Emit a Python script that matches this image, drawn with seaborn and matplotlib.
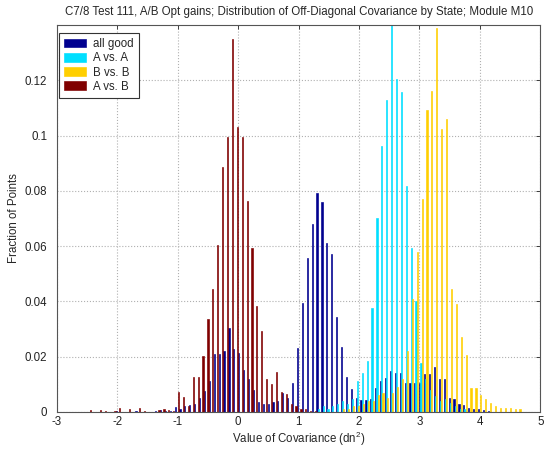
import numpy as np
import pandas as pd
import matplotlib
matplotlib.use("Agg")
import matplotlib.pyplot as plt
import seaborn as sns

# Histogram bins (centres) of the off-diagonal covariance, dn^2
bin_start = -2.474
bin_width = 0.081
n_bins = 89
bin_centers = np.round(bin_start + bin_width * np.arange(n_bins), 4)

states = ["all good", "A vs. A", "B vs. B", "A vs. B"]

# Fraction of points per bin, one list per state (bins from -2.474 upward)
all_good = [
    0, 0, 0, 0, 0, 0, 0.0005, 0, 0, 0, 0.0005, 0, 0, 0,
    0.0005, 0.0008, 0.0005, 0.0005, 0.0017, 0.001, 0.002, 0.0026, 0.003, 0.005,
    0.0077, 0.0113, 0.0209, 0.0209, 0.022, 0.0305, 0.0229, 0.0215, 0.0151, 0.0121,
    0.008, 0.0035, 0.003, 0.003, 0.0037, 0.004, 0.007, 0.005, 0.0106, 0.023,
    0.0396, 0.0556, 0.0679, 0.0791, 0.0760, 0.0613, 0.0570, 0.0345, 0.0235, 0.0128,
    0.0082, 0.005, 0.0043, 0.0042, 0.0046, 0.0088, 0.0112, 0.0124, 0.0148, 0.0142,
    0.0142, 0.0104, 0.0106, 0.0106, 0.0105, 0.0136, 0.0136, 0.0164, 0.012, 0.012,
    0.005, 0.0046, 0.003, 0.0024, 0.0016, 0.0012, 0.0012, 0.0008, 0.0005,
    0, 0, 0, 0, 0, 0,
]

a_vs_a = [0] * 47 + [
    0.001, 0.002, 0.001, 0.002, 0.003, 0.004, 0.003, 0.0046, 0.0112, 0.014,
    0.0184, 0.0377, 0.0703, 0.0964, 0.113, 0.155, 0.1205, 0.1158, 0.0817, 0.0594,
    0.040, 0.0178, 0.012, 0.008, 0.0058, 0.004, 0.0046, 0.0034, 0.002, 0.001,
    0.001,
] + [0] * 11

b_vs_b = [0] * 52 + [
    0.001, 0.001, 0.002, 0.002, 0.003, 0.004, 0.004, 0.006, 0.007, 0.005,
    0.007, 0.009, 0.012, 0.022, 0.0407, 0.058, 0.0772, 0.1094, 0.116, 0.139,
    0.1024, 0.106, 0.0446, 0.039, 0.027, 0.0205, 0.0088, 0.0088, 0.006, 0.0046,
    0.0034, 0.0022, 0.0016, 0.0015, 0.0015, 0.0012, 0.0012,
]

a_vs_b = [
    0.0008, 0, 0.0008, 0.0005, 0, 0.0005, 0.0015, 0, 0.0012, 0,
    0.0015, 0.0005, 0, 0, 0.0008, 0.001, 0.0008, 0.0005, 0.0073, 0.0055,
    0.002, 0.0127, 0.0127, 0.0204, 0.0337, 0.0444, 0.0605, 0.0887, 0.0996, 0.1351,
    0.1030, 0.0996, 0.0763, 0.0594, 0.0383, 0.0293, 0.0118, 0.0100, 0.0145, 0.0072,
    0.0064, 0.0030, 0.0020, 0.0010, 0.0010, 0.0005, 0.0005,
] + [0] * 42

state_colors = {
    "all good": (0.0, 0.0, 0.5625),
    "A vs. A": (0.0, 0.875, 1.0),
    "B vs. B": (1.0, 0.8125, 0.0),
    "A vs. B": (0.5, 0.0, 0.0),
}

x_ticks = [-3, -2, -1, 0, 1, 2, 3, 4, 5]
y_ticks = [0, 0.02, 0.04, 0.06, 0.08, 0.10, 0.12]
y_tick_labels = ["0", "0.02", "0.04", "0.06", "0.08", "0.1", "0.12"]

df = pd.concat(
    [
        pd.DataFrame({"center": bin_centers, "fraction": vals, "state": name})
        for name, vals in zip(states, [all_good, a_vs_a, b_vs_b, a_vs_b])
    ],
    ignore_index=True,
)

sns.set_style("white")
plt.rcParams["font.family"] = ["Liberation Sans", "DejaVu Sans"]
plt.rcParams["axes.unicode_minus"] = False
plt.rcParams["mathtext.fontset"] = "custom"
plt.rcParams["mathtext.rm"] = "Liberation Sans"

fs = 8.3
fig = plt.figure(figsize=(5.48, 4.51), dpi=100)
ax = fig.add_axes([0.104, 0.0865, 0.882, 0.858])

sns.barplot(
    data=df, x="center", y="fraction", hue="state", hue_order=states,
    palette=state_colors, native_scale=True, errorbar=None, width=0.95,
    saturation=1, linewidth=0, ax=ax,
)

# thin outline in the bar's own colour so the narrow bars read clearly
for bar in ax.patches:
    bar.set_edgecolor(bar.get_facecolor())
    bar.set_linewidth(0.45)

ax.set_xlim(-3, 5)
ax.set_ylim(0, 0.14)
ax.set_xticks(x_ticks)
ax.set_xticklabels([str(t) for t in x_ticks])
ax.set_yticks(y_ticks)
ax.set_yticklabels(y_tick_labels)
ax.tick_params(direction="in", length=3, width=0.6, labelsize=fs,
               top=True, right=True, colors="#222222")
ax.tick_params(axis="y", pad=7)
ax.tick_params(axis="x", pad=3)
ax.grid(True, linestyle=":", color="#b0b0b0", linewidth=0.8)
ax.set_axisbelow(True)
for sp in ax.spines.values():
    sp.set_color("#555555")
    sp.set_linewidth(0.8)

ax.set_title("C7/8 Test 111, A/B Opt gains; Distribution of Off-Diagonal Covariance by State; Module M10",
             fontsize=fs, pad=7)
ax.set_xlabel("Value of Covariance (dn$^{2}$)", fontsize=fs, labelpad=1)
ax.set_ylabel("Fraction of Points", fontsize=fs, labelpad=3)

handles, labels = ax.get_legend_handles_labels()
leg = ax.legend(handles, labels, loc="upper left", bbox_to_anchor=(0.004, 0.98),
                borderaxespad=0, fontsize=fs, frameon=True, fancybox=False,
                edgecolor="#333333", framealpha=1, handlelength=1.9,
                handleheight=0.8, handletextpad=0.6, labelspacing=0.2,
                borderpad=0.45)
leg.get_frame().set_linewidth(0.8)

fig.savefig("out.png", dpi=100)
